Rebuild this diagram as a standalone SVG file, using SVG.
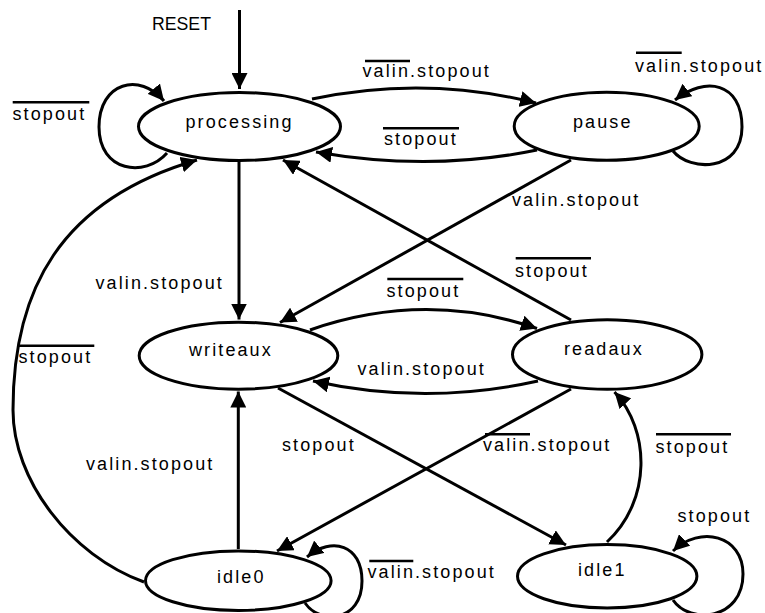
<svg xmlns="http://www.w3.org/2000/svg" width="765" height="613" viewBox="0 0 765 613">
<defs>
<marker id="arr" markerUnits="userSpaceOnUse" viewBox="0 0 17 16" markerWidth="17" markerHeight="16" refX="16" refY="8" orient="auto">
<path d="M0,0 L16,8 L0,16 z" fill="#000"/>
</marker>
</defs>
<style>
.node ellipse{fill:#fff;stroke:#000;stroke-width:3}
.t{font-family:"Liberation Sans",Arial,Helvetica,sans-serif;font-size:18px;letter-spacing:2.1px;fill:#000}
.edge{fill:none;stroke:#000;stroke-width:3;marker-end:url(#arr)}
.bar{stroke:#000;stroke-width:2.5}
</style>
<rect width="765" height="613" fill="#fff"/>
<g id="connectors">
<path class="edge" d="M239.5 10 L239.5 89"/>
<path class="edge" d="M167 153 C145 178 99 172 99 127 C99 82 140 72 164 101"/>
<path class="edge" d="M312 99 Q425 75 536 103"/>
<path class="edge" d="M537 150 Q430 172 316 152"/>
<path class="edge" d="M673 151 C690 172 742 172 742 127 C742 82 705 76 675 100"/>
<path class="edge" d="M239 162 L239 319.5"/>
<path class="edge" d="M571 160 L280 322.5"/>
<path class="edge" d="M571 320 L283 160"/>
<path class="edge" d="M310 330 Q425 290 537 328.5"/>
<path class="edge" d="M538 381 Q425 406 313 381"/>
<path class="edge" d="M278 388 L566 545"/>
<path class="edge" d="M571 389 L277 551"/>
<path class="edge" d="M238.3 549 L238.3 391.5"/>
<path class="edge" d="M144 582 C70 555 13 480 13 410 C13 290 60 200 197 160"/>
<path class="edge" d="M305 603 C320 625 362 622 362 581 C362 545 332 536 307 557"/>
<path class="edge" d="M607 542 C652 500 650 430 614.5 392"/>
<path class="edge" d="M673 600 C690 625 743 620 743 574 C743 535 700 525 673 551"/>
</g>
<g id="node-processing" class="node">
<ellipse cx="239.5" cy="126.5" rx="101" ry="34"/>
<text class="t" x="185.5" y="128">processing</text>
</g>
<g id="node-pause" class="node">
<ellipse cx="606.7" cy="126.2" rx="92.5" ry="34"/>
<text class="t" x="573" y="128">pause</text>
</g>
<g id="node-writeaux" class="node">
<ellipse cx="238.5" cy="355.7" rx="99.3" ry="33.5"/>
<text class="t" x="189" y="356">writeaux</text>
</g>
<g id="node-readaux" class="node">
<ellipse cx="607.2" cy="354.5" rx="94.7" ry="34.7"/>
<text class="t" x="564" y="355">readaux</text>
</g>
<g id="node-idle0" class="node">
<ellipse cx="238.3" cy="580.7" rx="92.8" ry="29.8"/>
<text class="t" x="217" y="582.5">idle0</text>
</g>
<g id="node-idle1" class="node">
<ellipse cx="607.2" cy="576.3" rx="89.7" ry="31.7"/>
<text class="t" x="578" y="576">idle1</text>
</g>
<g id="edge-labels">
<text class="t" x="152" y="30" style="letter-spacing:0;font-size:17.7px">RESET</text>
<text class="t" x="362.5" y="77">valin.stopout</text>
<line class="bar" x1="365" y1="61" x2="410" y2="61"/>
<text class="t" x="635" y="72">valin.stopout</text>
<line class="bar" x1="636" y1="52.7" x2="681.7" y2="52.7"/>
<text class="t" x="384" y="145">stopout</text>
<line class="bar" x1="383" y1="128.3" x2="459" y2="128.3"/>
<text class="t" x="12.5" y="120">stopout</text>
<line class="bar" x1="12.7" y1="102.3" x2="89.3" y2="102.3"/>
<text class="t" x="95.5" y="289">valin.stopout</text>
<text class="t" x="512" y="206">valin.stopout</text>
<text class="t" x="515" y="276.7">stopout</text>
<line class="bar" x1="515.7" y1="258.3" x2="591" y2="258.3"/>
<text class="t" x="386.5" y="296.7">stopout</text>
<line class="bar" x1="387.3" y1="279" x2="463.3" y2="279"/>
<text class="t" x="357.5" y="375">valin.stopout</text>
<text class="t" x="18.5" y="363.3">stopout</text>
<line class="bar" x1="19" y1="345.7" x2="94.3" y2="345.7"/>
<text class="t" x="282" y="450.7">stopout</text>
<text class="t" x="483" y="450.7">valin.stopout</text>
<line class="bar" x1="485" y1="434.3" x2="530" y2="434.3"/>
<text class="t" x="86" y="470">valin.stopout</text>
<text class="t" x="367.5" y="578.3">valin.stopout</text>
<line class="bar" x1="369.3" y1="561" x2="413.3" y2="561"/>
<text class="t" x="655.5" y="453.3">stopout</text>
<line class="bar" x1="656" y1="434.3" x2="731" y2="434.3"/>
<text class="t" x="677.5" y="521.7">stopout</text>
</g>
</svg>
